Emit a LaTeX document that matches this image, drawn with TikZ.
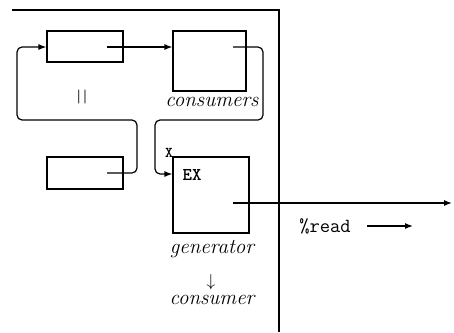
\documentclass[tikz,border=0pt]{standalone}
\usetikzlibrary{arrows.meta}
\begin{document}
\begin{tikzpicture}[x=1pt,y=-1pt,
  line width=1.2pt,
  boxstyle/.style={draw,line width=1.2pt,inner sep=0pt},
  wire/.style={line width=1.2pt,rounded corners=5pt},
  arr/.style={wire,-{Latex[length=8pt,width=6pt]}},
  itlabel/.style={font=\fontsize{21}{25}\selectfont\itshape,inner sep=0pt},
  ttlabel/.style={font=\fontsize{20}{24}\selectfont\ttfamily,inner sep=0pt}]
\useasboundingbox (0,0) rectangle (454,332);
% frame
\coordinate (f0) at (12,10);
\coordinate (f1) at (279,10);
\coordinate (f2) at (279,332);
\draw (f0) -- (f1) -- (f2);
% boxes
\node[boxstyle,minimum width=76pt,minimum height=31pt] (A) at (85,46.5) {};
\node[boxstyle,minimum width=73pt,minimum height=60pt] (B) at (209.5,61) {};
\node[boxstyle,minimum width=76pt,minimum height=32pt] (C) at (85,173) {};
\node[boxstyle,minimum width=76pt,minimum height=76pt] (D) at (211,195) {};
% labels
\node[itlabel] (consumers) at (212,102) {consumers};
\node[font=\fontsize{14}{16}\selectfont\sffamily\bfseries,inner sep=0pt] (par) at (82,97) {|\kern2pt|};
\node[font=\fontsize{15}{18}\selectfont\ttfamily\bfseries,inner sep=0pt] (xl) at (169,153) {X};
\node[font=\fontsize{18}{21}\selectfont\ttfamily\bfseries,inner sep=0pt] (ex) at (192,175) {EX};
\node[itlabel] (gen) at (212,249) {generator};
\node[font=\fontsize{18}{21}\selectfont,inner sep=0pt] (down) at (211,282) {$\downarrow$};
\node[itlabel] (cons) at (212,300) {consumer};
\node[ttlabel] (read) at (325,226) {\%read};
\coordinate (r0) at (367,226);
\coordinate (r1) at (413,226);
\draw[-{Latex[length=8pt,width=6pt]}] (r0) -- (r1);
% connectors
\coordinate (a0) at (107,47);
\draw[arr] (a0) -- (a0 -| B.west);
\coordinate (b0) at (233,47);
\coordinate (b1) at (263,47);
\coordinate (b2) at (263,120);
\coordinate (b3) at (155,120);
\coordinate (b4) at (155,174);
\draw[arr] (b0) -- (b1) -- (b2) -- (b3) -- (b4) -- (b4 -| D.west);
\coordinate (c0) at (107,173);
\coordinate (c1) at (137,173);
\coordinate (c2) at (137,120);
\coordinate (c3) at (17,120);
\coordinate (c4) at (17,47);
\draw[arr] (c0) -- (c1) -- (c2) -- (c3) -- (c4) -- (c4 -| A.west);
\coordinate (d0) at (233,203);
\coordinate (d1) at (452,203);
\draw[arr] (d0) -- (d1);
\end{tikzpicture}
\end{document}
